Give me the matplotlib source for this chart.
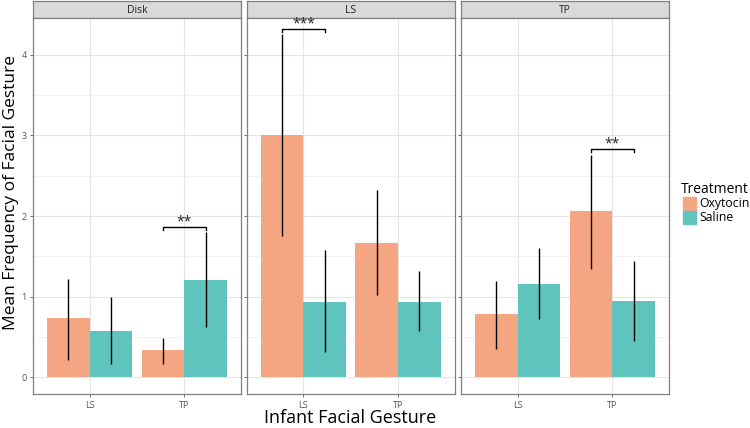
import matplotlib.pyplot as plt
from matplotlib.patches import Rectangle

plt.rcParams['font.family'] = ['Open Sans', 'DejaVu Sans']

panels = ['Disk', 'LS', 'TP']
gestures = ['LS', 'TP']
treatments = ['Oxytocin', 'Saline']
colors = {'Oxytocin': '#F4A582', 'Saline': '#5FC4BE'}

# mean values per panel: [LS, TP]
oxy_mean = {'Disk': [0.73, 0.34], 'LS': [3.0, 1.67], 'TP': [0.78, 2.06]}
sal_mean = {'Disk': [0.58, 1.21], 'LS': [0.94, 0.94], 'TP': [1.16, 0.95]}
# error bars (low, high)
oxy_lo = {'Disk': [0.22, 0.17], 'LS': [1.75, 1.02], 'TP': [0.35, 1.34]}
oxy_hi = {'Disk': [1.22, 0.49], 'LS': [4.26, 2.32], 'TP': [1.20, 2.76]}
sal_lo = {'Disk': [0.16, 0.62], 'LS': [0.32, 0.57], 'TP': [0.72, 0.45]}
sal_hi = {'Disk': [1.00, 1.80], 'LS': [1.58, 1.32], 'TP': [1.60, 1.44]}
# significance brackets: panel -> (gesture index, height, label)
sig = {'Disk': (1, 1.87, '**'), 'LS': (0, 4.32, '***'), 'TP': (1, 2.83, '**')}

fig = plt.figure(figsize=(7.5, 4.28), dpi=100)
W, H = 750., 428.
lefts = [33, 246.7, 461]
pw = 208
top_px, bot_px, strip_top = 17.7, 394.3, 1.3

bw = 0.45
for i, p in enumerate(panels):
    # facet strip
    sh = (top_px-strip_top)/H
    sax = fig.add_axes([lefts[i]/W, 1-top_px/H, pw/W, sh])
    sax.set_xticks([]); sax.set_yticks([])
    sax.set_facecolor('#D9D9D9')
    for s in sax.spines.values():
        s.set_color('#808080')
        s.set_linewidth(0.9)
    sax.text(0.5, 0.45, p, ha='center', va='center', fontsize=7.5, color='#222222',
             transform=sax.transAxes)

    ax = fig.add_axes([lefts[i]/W, 1-bot_px/H, pw/W, (bot_px-top_px)/H])
    x = [1, 2]
    ax.bar([v-bw/2 for v in x], oxy_mean[p], width=bw, color=colors['Oxytocin'], zorder=2)
    ax.bar([v+bw/2 for v in x], sal_mean[p], width=bw, color=colors['Saline'], zorder=2)
    ax.vlines([v-bw/2 for v in x], oxy_lo[p], oxy_hi[p], color='black', lw=1, zorder=3)
    ax.vlines([v+bw/2 for v in x], sal_lo[p], sal_hi[p], color='black', lw=1, zorder=3)
    gi, h, lab = sig[p]
    x0, x1 = x[gi]-bw/2, x[gi]+bw/2
    ax.plot([x0, x0, x1, x1], [h-0.04, h, h, h-0.04], color='black', lw=1, zorder=3)
    ax.text((x0+x1)/2, h+0.06, lab, ha='center', va='center', fontsize=10, color='#222222')
    ax.set_xlim(0.4, 2.6)
    ax.set_ylim(-0.21, 4.46)
    ax.set_xticks(x)
    ax.set_xticklabels(gestures, fontsize=6.5, color='#333333')
    ax.set_yticks([0, 1, 2, 3, 4])
    ax.set_yticks([0.5, 1.5, 2.5, 3.5], minor=True)
    if i == 0:
        ax.set_yticklabels(['0', '1', '2', '3', '4'], fontsize=6.5, color='#333333')
    else:
        ax.set_yticklabels([])
        ax.tick_params(axis='y', length=0)
    ax.tick_params(axis='y', which='minor', length=0)
    ax.tick_params(colors='#555555', width=0.6, length=2.5, pad=2)
    ax.grid(True, which='major', color='#E5E5E5', lw=0.8, zorder=0)
    ax.grid(True, which='minor', axis='y', color='#F0F0F0', lw=0.6, zorder=0)
    ax.set_axisbelow(True)
    for s in ax.spines.values():
        s.set_color('#808080')
        s.set_linewidth(0.9)

fig.text(350/W, 1-418/H, 'Infant Facial Gesture', ha='center', va='center', fontsize=13)
fig.text(11/W, 1-192/H, 'Mean Frequency of Facial Gesture', ha='center', va='center',
         fontsize=12.5, rotation=90)

# legend
fig.text(681/W, 1-189/H, 'Treatment', ha='left', va='center', fontsize=10)
for k, t in enumerate(treatments):
    y0 = 197 + k*14
    fig.patches.append(Rectangle((683/W, 1-(y0+13)/H), 13/W, 13/H, color=colors[t],
                                 transform=fig.transFigure, figure=fig))
    fig.text(699/W, 1-(y0+6.5)/H, t, ha='left', va='center', fontsize=8.8)

fig.savefig('out.png', dpi=100)
